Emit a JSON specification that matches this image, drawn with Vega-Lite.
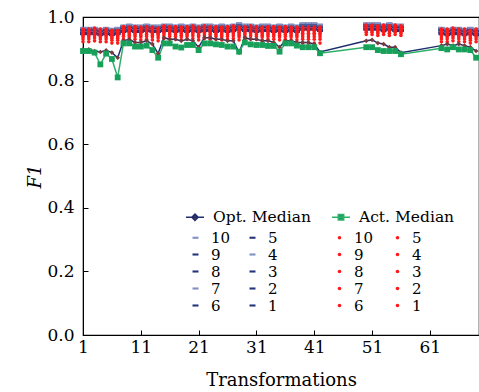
{
  "$schema": "https://vega.github.io/schema/vega-lite/v6.json",
  "width": 396,
  "height": 318,
  "padding": {"left": 26, "top": 8, "right": 3, "bottom": 0},
  "background": "white",
  "config": {
    "font": "DejaVu Serif",
    "view": {"stroke": "black", "strokeWidth": 1.2},
    "axis": {
      "grid": false,
      "domainColor": "black",
      "tickColor": "black",
      "labelColor": "black",
      "titleColor": "black",
      "labelFont": "DejaVu Serif",
      "titleFont": "DejaVu Serif",
      "titleFontWeight": "normal",
      "labelFontSize": 17,
      "titleFontSize": 18,
      "tickSize": -5
    },
    "legend": {"labelFont": "DejaVu Serif", "labelColor": "black", "padding": 0}
  },
  "data": {"values": [
    {"x":1,"om":0.898,"am":0.893,"o1":0.946,"o2":0.950,"o3":0.953,"o4":0.956,"o5":0.958,"o6":0.960,"o7":0.962,"o8":0.963,"o9":0.965,"o10":0.966,"a1":0.922,"a2":0.931,"a3":0.937,"a4":0.942,"a5":0.946,"a6":0.950,"a7":0.953,"a8":0.956,"a9":0.959,"a10":0.962},
    {"x":2,"om":0.898,"am":0.893,"o1":0.946,"o2":0.950,"o3":0.953,"o4":0.956,"o5":0.958,"o6":0.960,"o7":0.962,"o8":0.963,"o9":0.965,"o10":0.966,"a1":0.922,"a2":0.931,"a3":0.937,"a4":0.942,"a5":0.946,"a6":0.950,"a7":0.953,"a8":0.956,"a9":0.959,"a10":0.962},
    {"x":3,"om":0.893,"am":0.888,"o1":0.946,"o2":0.950,"o3":0.953,"o4":0.956,"o5":0.958,"o6":0.960,"o7":0.962,"o8":0.963,"o9":0.965,"o10":0.966,"a1":0.925,"a2":0.934,"a3":0.940,"a4":0.945,"a5":0.949,"a6":0.953,"a7":0.956,"a8":0.959,"a9":0.962,"a10":0.965},
    {"x":4,"om":0.890,"am":0.851,"o1":0.943,"o2":0.947,"o3":0.950,"o4":0.953,"o5":0.955,"o6":0.957,"o7":0.959,"o8":0.960,"o9":0.962,"o10":0.963,"a1":0.922,"a2":0.931,"a3":0.937,"a4":0.942,"a5":0.946,"a6":0.950,"a7":0.953,"a8":0.956,"a9":0.959,"a10":0.962},
    {"x":5,"om":0.895,"am":0.885,"o1":0.946,"o2":0.950,"o3":0.953,"o4":0.956,"o5":0.958,"o6":0.960,"o7":0.962,"o8":0.963,"o9":0.965,"o10":0.966,"a1":0.922,"a2":0.931,"a3":0.937,"a4":0.942,"a5":0.946,"a6":0.950,"a7":0.953,"a8":0.956,"a9":0.959,"a10":0.962},
    {"x":6,"om":0.888,"am":0.868,"o1":0.943,"o2":0.947,"o3":0.950,"o4":0.953,"o5":0.955,"o6":0.957,"o7":0.959,"o8":0.960,"o9":0.962,"o10":0.963,"a1":0.918,"a2":0.927,"a3":0.933,"a4":0.938,"a5":0.942,"a6":0.946,"a7":0.949,"a8":0.952,"a9":0.955,"a10":0.958},
    {"x":7,"om":0.872,"am":0.810,"o1":0.946,"o2":0.950,"o3":0.953,"o4":0.956,"o5":0.958,"o6":0.960,"o7":0.962,"o8":0.963,"o9":0.965,"o10":0.966,"a1":0.918,"a2":0.927,"a3":0.933,"a4":0.938,"a5":0.942,"a6":0.946,"a7":0.949,"a8":0.952,"a9":0.955,"a10":0.958},
    {"x":8,"om":0.925,"am":0.917,"o1":0.953,"o2":0.957,"o3":0.960,"o4":0.963,"o5":0.965,"o6":0.967,"o7":0.969,"o8":0.970,"o9":0.972,"o10":0.973,"a1":0.930,"a2":0.939,"a3":0.945,"a4":0.950,"a5":0.954,"a6":0.958,"a7":0.961,"a8":0.964,"a9":0.967,"a10":0.970},
    {"x":9,"om":0.930,"am":0.917,"o1":0.956,"o2":0.960,"o3":0.963,"o4":0.966,"o5":0.968,"o6":0.970,"o7":0.972,"o8":0.973,"o9":0.975,"o10":0.976,"a1":0.928,"a2":0.937,"a3":0.943,"a4":0.948,"a5":0.952,"a6":0.956,"a7":0.959,"a8":0.962,"a9":0.965,"a10":0.968},
    {"x":10,"om":0.920,"am":0.907,"o1":0.953,"o2":0.957,"o3":0.960,"o4":0.963,"o5":0.965,"o6":0.967,"o7":0.969,"o8":0.970,"o9":0.972,"o10":0.973,"a1":0.930,"a2":0.939,"a3":0.945,"a4":0.950,"a5":0.954,"a6":0.958,"a7":0.961,"a8":0.964,"a9":0.967,"a10":0.970},
    {"x":11,"om":0.920,"am":0.907,"o1":0.953,"o2":0.957,"o3":0.960,"o4":0.963,"o5":0.965,"o6":0.967,"o7":0.969,"o8":0.970,"o9":0.972,"o10":0.973,"a1":0.928,"a2":0.937,"a3":0.943,"a4":0.948,"a5":0.952,"a6":0.956,"a7":0.959,"a8":0.962,"a9":0.965,"a10":0.968},
    {"x":12,"om":0.925,"am":0.910,"o1":0.956,"o2":0.960,"o3":0.963,"o4":0.966,"o5":0.968,"o6":0.970,"o7":0.972,"o8":0.973,"o9":0.975,"o10":0.976,"a1":0.930,"a2":0.939,"a3":0.945,"a4":0.950,"a5":0.954,"a6":0.958,"a7":0.961,"a8":0.964,"a9":0.967,"a10":0.970},
    {"x":13,"om":0.915,"am":0.896,"o1":0.953,"o2":0.957,"o3":0.960,"o4":0.963,"o5":0.965,"o6":0.967,"o7":0.969,"o8":0.970,"o9":0.972,"o10":0.973,"a1":0.928,"a2":0.937,"a3":0.943,"a4":0.948,"a5":0.952,"a6":0.956,"a7":0.959,"a8":0.962,"a9":0.965,"a10":0.968},
    {"x":14,"om":0.885,"am":0.872,"o1":0.953,"o2":0.957,"o3":0.960,"o4":0.963,"o5":0.965,"o6":0.967,"o7":0.969,"o8":0.970,"o9":0.972,"o10":0.973,"a1":0.925,"a2":0.934,"a3":0.940,"a4":0.945,"a5":0.949,"a6":0.953,"a7":0.956,"a8":0.959,"a9":0.962,"a10":0.965},
    {"x":15,"om":0.935,"am":0.917,"o1":0.956,"o2":0.960,"o3":0.963,"o4":0.966,"o5":0.968,"o6":0.970,"o7":0.972,"o8":0.973,"o9":0.975,"o10":0.976,"a1":0.932,"a2":0.941,"a3":0.947,"a4":0.952,"a5":0.956,"a6":0.960,"a7":0.963,"a8":0.966,"a9":0.969,"a10":0.972},
    {"x":16,"om":0.930,"am":0.917,"o1":0.956,"o2":0.960,"o3":0.963,"o4":0.966,"o5":0.968,"o6":0.970,"o7":0.972,"o8":0.973,"o9":0.975,"o10":0.976,"a1":0.930,"a2":0.939,"a3":0.945,"a4":0.950,"a5":0.954,"a6":0.958,"a7":0.961,"a8":0.964,"a9":0.967,"a10":0.970},
    {"x":17,"om":0.930,"am":0.907,"o1":0.953,"o2":0.957,"o3":0.960,"o4":0.963,"o5":0.965,"o6":0.967,"o7":0.969,"o8":0.970,"o9":0.972,"o10":0.973,"a1":0.930,"a2":0.939,"a3":0.945,"a4":0.950,"a5":0.954,"a6":0.958,"a7":0.961,"a8":0.964,"a9":0.967,"a10":0.970},
    {"x":18,"om":0.925,"am":0.904,"o1":0.956,"o2":0.960,"o3":0.963,"o4":0.966,"o5":0.968,"o6":0.970,"o7":0.972,"o8":0.973,"o9":0.975,"o10":0.976,"a1":0.928,"a2":0.937,"a3":0.943,"a4":0.948,"a5":0.952,"a6":0.956,"a7":0.959,"a8":0.962,"a9":0.965,"a10":0.968},
    {"x":19,"om":0.930,"am":0.912,"o1":0.953,"o2":0.957,"o3":0.960,"o4":0.963,"o5":0.965,"o6":0.967,"o7":0.969,"o8":0.970,"o9":0.972,"o10":0.973,"a1":0.930,"a2":0.939,"a3":0.945,"a4":0.950,"a5":0.954,"a6":0.958,"a7":0.961,"a8":0.964,"a9":0.967,"a10":0.970},
    {"x":20,"om":0.925,"am":0.912,"o1":0.956,"o2":0.960,"o3":0.963,"o4":0.966,"o5":0.968,"o6":0.970,"o7":0.972,"o8":0.973,"o9":0.975,"o10":0.976,"a1":0.932,"a2":0.941,"a3":0.947,"a4":0.952,"a5":0.956,"a6":0.960,"a7":0.963,"a8":0.966,"a9":0.969,"a10":0.972},
    {"x":21,"om":0.905,"am":0.896,"o1":0.953,"o2":0.957,"o3":0.960,"o4":0.963,"o5":0.965,"o6":0.967,"o7":0.969,"o8":0.970,"o9":0.972,"o10":0.973,"a1":0.928,"a2":0.937,"a3":0.943,"a4":0.948,"a5":0.952,"a6":0.956,"a7":0.959,"a8":0.962,"a9":0.965,"a10":0.968},
    {"x":22,"om":0.935,"am":0.917,"o1":0.956,"o2":0.960,"o3":0.963,"o4":0.966,"o5":0.968,"o6":0.970,"o7":0.972,"o8":0.973,"o9":0.975,"o10":0.976,"a1":0.932,"a2":0.941,"a3":0.947,"a4":0.952,"a5":0.956,"a6":0.960,"a7":0.963,"a8":0.966,"a9":0.969,"a10":0.972},
    {"x":23,"om":0.935,"am":0.917,"o1":0.956,"o2":0.960,"o3":0.963,"o4":0.966,"o5":0.968,"o6":0.970,"o7":0.972,"o8":0.973,"o9":0.975,"o10":0.976,"a1":0.930,"a2":0.939,"a3":0.945,"a4":0.950,"a5":0.954,"a6":0.958,"a7":0.961,"a8":0.964,"a9":0.967,"a10":0.970},
    {"x":24,"om":0.930,"am":0.914,"o1":0.953,"o2":0.957,"o3":0.960,"o4":0.963,"o5":0.965,"o6":0.967,"o7":0.969,"o8":0.970,"o9":0.972,"o10":0.973,"a1":0.930,"a2":0.939,"a3":0.945,"a4":0.950,"a5":0.954,"a6":0.958,"a7":0.961,"a8":0.964,"a9":0.967,"a10":0.970},
    {"x":25,"om":0.930,"am":0.912,"o1":0.956,"o2":0.960,"o3":0.963,"o4":0.966,"o5":0.968,"o6":0.970,"o7":0.972,"o8":0.973,"o9":0.975,"o10":0.976,"a1":0.928,"a2":0.937,"a3":0.943,"a4":0.948,"a5":0.952,"a6":0.956,"a7":0.959,"a8":0.962,"a9":0.965,"a10":0.968},
    {"x":26,"om":0.925,"am":0.907,"o1":0.953,"o2":0.957,"o3":0.960,"o4":0.963,"o5":0.965,"o6":0.967,"o7":0.969,"o8":0.970,"o9":0.972,"o10":0.973,"a1":0.930,"a2":0.939,"a3":0.945,"a4":0.950,"a5":0.954,"a6":0.958,"a7":0.961,"a8":0.964,"a9":0.967,"a10":0.970},
    {"x":27,"om":0.925,"am":0.907,"o1":0.956,"o2":0.960,"o3":0.963,"o4":0.966,"o5":0.968,"o6":0.970,"o7":0.972,"o8":0.973,"o9":0.975,"o10":0.976,"a1":0.932,"a2":0.941,"a3":0.947,"a4":0.952,"a5":0.956,"a6":0.960,"a7":0.963,"a8":0.966,"a9":0.969,"a10":0.972},
    {"x":28,"om":0.888,"am":0.891,"o1":0.960,"o2":0.964,"o3":0.967,"o4":0.970,"o5":0.972,"o6":0.974,"o7":0.976,"o8":0.977,"o9":0.979,"o10":0.980,"a1":0.928,"a2":0.937,"a3":0.943,"a4":0.948,"a5":0.952,"a6":0.956,"a7":0.959,"a8":0.962,"a9":0.965,"a10":0.968},
    {"x":29,"om":0.935,"am":0.920,"o1":0.956,"o2":0.960,"o3":0.963,"o4":0.966,"o5":0.968,"o6":0.970,"o7":0.972,"o8":0.973,"o9":0.975,"o10":0.976,"a1":0.930,"a2":0.939,"a3":0.945,"a4":0.950,"a5":0.954,"a6":0.958,"a7":0.961,"a8":0.964,"a9":0.967,"a10":0.970},
    {"x":30,"om":0.930,"am":0.914,"o1":0.956,"o2":0.960,"o3":0.963,"o4":0.966,"o5":0.968,"o6":0.970,"o7":0.972,"o8":0.973,"o9":0.975,"o10":0.976,"a1":0.932,"a2":0.941,"a3":0.947,"a4":0.952,"a5":0.956,"a6":0.960,"a7":0.963,"a8":0.966,"a9":0.969,"a10":0.972},
    {"x":31,"om":0.930,"am":0.912,"o1":0.953,"o2":0.957,"o3":0.960,"o4":0.963,"o5":0.965,"o6":0.967,"o7":0.969,"o8":0.970,"o9":0.972,"o10":0.973,"a1":0.930,"a2":0.939,"a3":0.945,"a4":0.950,"a5":0.954,"a6":0.958,"a7":0.961,"a8":0.964,"a9":0.967,"a10":0.970},
    {"x":32,"om":0.925,"am":0.912,"o1":0.956,"o2":0.960,"o3":0.963,"o4":0.966,"o5":0.968,"o6":0.970,"o7":0.972,"o8":0.973,"o9":0.975,"o10":0.976,"a1":0.928,"a2":0.937,"a3":0.943,"a4":0.948,"a5":0.952,"a6":0.956,"a7":0.959,"a8":0.962,"a9":0.965,"a10":0.968},
    {"x":33,"om":0.925,"am":0.909,"o1":0.956,"o2":0.960,"o3":0.963,"o4":0.966,"o5":0.968,"o6":0.970,"o7":0.972,"o8":0.973,"o9":0.975,"o10":0.976,"a1":0.930,"a2":0.939,"a3":0.945,"a4":0.950,"a5":0.954,"a6":0.958,"a7":0.961,"a8":0.964,"a9":0.967,"a10":0.970},
    {"x":34,"om":0.920,"am":0.909,"o1":0.953,"o2":0.957,"o3":0.960,"o4":0.963,"o5":0.965,"o6":0.967,"o7":0.969,"o8":0.970,"o9":0.972,"o10":0.973,"a1":0.930,"a2":0.939,"a3":0.945,"a4":0.950,"a5":0.954,"a6":0.958,"a7":0.961,"a8":0.964,"a9":0.967,"a10":0.970},
    {"x":35,"om":0.905,"am":0.891,"o1":0.956,"o2":0.960,"o3":0.963,"o4":0.966,"o5":0.968,"o6":0.970,"o7":0.972,"o8":0.973,"o9":0.975,"o10":0.976,"a1":0.928,"a2":0.937,"a3":0.943,"a4":0.948,"a5":0.952,"a6":0.956,"a7":0.959,"a8":0.962,"a9":0.965,"a10":0.968},
    {"x":36,"om":0.925,"am":0.917,"o1":0.953,"o2":0.957,"o3":0.960,"o4":0.963,"o5":0.965,"o6":0.967,"o7":0.969,"o8":0.970,"o9":0.972,"o10":0.973,"a1":0.930,"a2":0.939,"a3":0.945,"a4":0.950,"a5":0.954,"a6":0.958,"a7":0.961,"a8":0.964,"a9":0.967,"a10":0.970},
    {"x":37,"om":0.925,"am":0.917,"o1":0.956,"o2":0.960,"o3":0.963,"o4":0.966,"o5":0.968,"o6":0.970,"o7":0.972,"o8":0.973,"o9":0.975,"o10":0.976,"a1":0.928,"a2":0.937,"a3":0.943,"a4":0.948,"a5":0.952,"a6":0.956,"a7":0.959,"a8":0.962,"a9":0.965,"a10":0.968},
    {"x":38,"om":0.920,"am":0.910,"o1":0.953,"o2":0.957,"o3":0.960,"o4":0.963,"o5":0.965,"o6":0.967,"o7":0.969,"o8":0.970,"o9":0.972,"o10":0.973,"a1":0.928,"a2":0.937,"a3":0.943,"a4":0.948,"a5":0.952,"a6":0.956,"a7":0.959,"a8":0.962,"a9":0.965,"a10":0.968},
    {"x":39,"om":0.920,"am":0.905,"o1":0.960,"o2":0.964,"o3":0.967,"o4":0.970,"o5":0.972,"o6":0.974,"o7":0.976,"o8":0.977,"o9":0.979,"o10":0.980,"a1":0.918,"a2":0.930,"a3":0.938,"a4":0.944,"a5":0.949,"a6":0.954,"a7":0.958,"a8":0.961,"a9":0.965,"a10":0.968},
    {"x":40,"om":0.920,"am":0.905,"o1":0.960,"o2":0.964,"o3":0.967,"o4":0.970,"o5":0.972,"o6":0.974,"o7":0.976,"o8":0.977,"o9":0.979,"o10":0.980,"a1":0.918,"a2":0.930,"a3":0.938,"a4":0.944,"a5":0.949,"a6":0.954,"a7":0.958,"a8":0.961,"a9":0.965,"a10":0.968},
    {"x":41,"om":0.915,"am":0.905,"o1":0.960,"o2":0.964,"o3":0.967,"o4":0.970,"o5":0.972,"o6":0.974,"o7":0.976,"o8":0.977,"o9":0.979,"o10":0.980,"a1":0.918,"a2":0.930,"a3":0.938,"a4":0.944,"a5":0.949,"a6":0.954,"a7":0.958,"a8":0.961,"a9":0.965,"a10":0.968},
    {"x":42,"om":0.890,"am":0.886,"o1":0.956,"o2":0.960,"o3":0.963,"o4":0.966,"o5":0.968,"o6":0.970,"o7":0.972,"o8":0.973,"o9":0.975,"o10":0.976,"a1":0.918,"a2":0.930,"a3":0.938,"a4":0.944,"a5":0.949,"a6":0.954,"a7":0.958,"a8":0.961,"a9":0.965,"a10":0.968},
    {"x":50,"om":0.925,"am":0.905,"o1":0.960,"o2":0.964,"o3":0.967,"o4":0.970,"o5":0.972,"o6":0.974,"o7":0.976,"o8":0.977,"o9":0.979,"o10":0.980,"a1":0.945,"a2":0.952,"a3":0.957,"a4":0.961,"a5":0.964,"a6":0.967,"a7":0.969,"a8":0.971,"a9":0.973,"a10":0.975},
    {"x":51,"om":0.928,"am":0.905,"o1":0.960,"o2":0.964,"o3":0.967,"o4":0.970,"o5":0.972,"o6":0.974,"o7":0.976,"o8":0.977,"o9":0.979,"o10":0.980,"a1":0.945,"a2":0.952,"a3":0.957,"a4":0.961,"a5":0.964,"a6":0.967,"a7":0.969,"a8":0.971,"a9":0.973,"a10":0.975},
    {"x":52,"om":0.918,"am":0.896,"o1":0.960,"o2":0.964,"o3":0.967,"o4":0.970,"o5":0.972,"o6":0.974,"o7":0.976,"o8":0.977,"o9":0.979,"o10":0.980,"a1":0.942,"a2":0.949,"a3":0.954,"a4":0.958,"a5":0.961,"a6":0.964,"a7":0.966,"a8":0.968,"a9":0.970,"a10":0.972},
    {"x":53,"om":0.915,"am":0.893,"o1":0.956,"o2":0.960,"o3":0.963,"o4":0.966,"o5":0.968,"o6":0.970,"o7":0.972,"o8":0.973,"o9":0.975,"o10":0.976,"a1":0.945,"a2":0.952,"a3":0.957,"a4":0.961,"a5":0.964,"a6":0.967,"a7":0.969,"a8":0.971,"a9":0.973,"a10":0.975},
    {"x":54,"om":0.905,"am":0.893,"o1":0.960,"o2":0.964,"o3":0.967,"o4":0.970,"o5":0.972,"o6":0.974,"o7":0.976,"o8":0.977,"o9":0.979,"o10":0.980,"a1":0.942,"a2":0.949,"a3":0.954,"a4":0.958,"a5":0.961,"a6":0.964,"a7":0.966,"a8":0.968,"a9":0.970,"a10":0.972},
    {"x":55,"om":0.905,"am":0.893,"o1":0.956,"o2":0.960,"o3":0.963,"o4":0.966,"o5":0.968,"o6":0.970,"o7":0.972,"o8":0.973,"o9":0.975,"o10":0.976,"a1":0.945,"a2":0.952,"a3":0.957,"a4":0.961,"a5":0.964,"a6":0.967,"a7":0.969,"a8":0.971,"a9":0.973,"a10":0.975},
    {"x":56,"om":0.888,"am":0.883,"o1":0.956,"o2":0.960,"o3":0.963,"o4":0.966,"o5":0.968,"o6":0.970,"o7":0.972,"o8":0.973,"o9":0.975,"o10":0.976,"a1":0.942,"a2":0.949,"a3":0.954,"a4":0.958,"a5":0.961,"a6":0.964,"a7":0.966,"a8":0.968,"a9":0.970,"a10":0.972},
    {"x":63,"om":0.910,"am":0.902,"o1":0.946,"o2":0.950,"o3":0.953,"o4":0.956,"o5":0.958,"o6":0.960,"o7":0.962,"o8":0.963,"o9":0.965,"o10":0.966,"a1":0.922,"a2":0.931,"a3":0.937,"a4":0.942,"a5":0.946,"a6":0.950,"a7":0.953,"a8":0.956,"a9":0.959,"a10":0.962},
    {"x":64,"om":0.915,"am":0.898,"o1":0.943,"o2":0.947,"o3":0.950,"o4":0.953,"o5":0.955,"o6":0.957,"o7":0.959,"o8":0.960,"o9":0.962,"o10":0.963,"a1":0.922,"a2":0.931,"a3":0.937,"a4":0.942,"a5":0.946,"a6":0.950,"a7":0.953,"a8":0.956,"a9":0.959,"a10":0.962},
    {"x":65,"om":0.910,"am":0.905,"o1":0.946,"o2":0.950,"o3":0.953,"o4":0.956,"o5":0.958,"o6":0.960,"o7":0.962,"o8":0.963,"o9":0.965,"o10":0.966,"a1":0.925,"a2":0.934,"a3":0.940,"a4":0.945,"a5":0.949,"a6":0.953,"a7":0.956,"a8":0.959,"a9":0.962,"a10":0.965},
    {"x":66,"om":0.915,"am":0.898,"o1":0.946,"o2":0.950,"o3":0.953,"o4":0.956,"o5":0.958,"o6":0.960,"o7":0.962,"o8":0.963,"o9":0.965,"o10":0.966,"a1":0.922,"a2":0.931,"a3":0.937,"a4":0.942,"a5":0.946,"a6":0.950,"a7":0.953,"a8":0.956,"a9":0.959,"a10":0.962},
    {"x":67,"om":0.910,"am":0.898,"o1":0.943,"o2":0.947,"o3":0.950,"o4":0.953,"o5":0.955,"o6":0.957,"o7":0.959,"o8":0.960,"o9":0.962,"o10":0.963,"a1":0.922,"a2":0.931,"a3":0.937,"a4":0.942,"a5":0.946,"a6":0.950,"a7":0.953,"a8":0.956,"a9":0.959,"a10":0.962},
    {"x":68,"om":0.905,"am":0.896,"o1":0.946,"o2":0.950,"o3":0.953,"o4":0.956,"o5":0.958,"o6":0.960,"o7":0.962,"o8":0.963,"o9":0.965,"o10":0.966,"a1":0.918,"a2":0.927,"a3":0.933,"a4":0.938,"a5":0.942,"a6":0.946,"a7":0.949,"a8":0.952,"a9":0.955,"a10":0.958},
    {"x":69,"om":0.893,"am":0.872,"o1":0.943,"o2":0.947,"o3":0.950,"o4":0.953,"o5":0.955,"o6":0.957,"o7":0.959,"o8":0.960,"o9":0.962,"o10":0.963,"a1":0.922,"a2":0.931,"a3":0.937,"a4":0.942,"a5":0.946,"a6":0.950,"a7":0.953,"a8":0.956,"a9":0.959,"a10":0.962}
  ]},
  "encoding": {
    "x": {
      "field": "x", "type": "quantitative",
      "scale": {"domain": [1, 69.5], "nice": false, "zero": false},
      "axis": {"values": [1, 11, 21, 31, 41, 51, 61], "title": "Transformations", "labelPadding": 9, "titlePadding": 16, "labelFlush": false}
    }
  },
  "layer": [
    {
      "transform": [{"fold": ["o1","o2","o3","o4","o5","o6","o7","o8","o9","o10"], "as": ["ok", "ov"]}],
      "mark": {"type": "point", "filled": true, "shape": "M-1,-0.35H1V0.35H-1Z", "size": 36, "opacity": 1},
      "encoding": {
        "y": {"field": "ov", "type": "quantitative", "title": "F1",
              "scale": {"domain": [0, 1], "nice": false},
              "axis": {"values": [0, 0.2, 0.4, 0.6, 0.8, 1.0], "format": ".1f", "titleFontStyle": "italic", "labelPadding": 14, "titlePadding": 2}},
        "fill": {"field": "ok", "type": "nominal",
          "scale": {"domain": ["o10","o9","o8","o7","o6","o5","o4","o3","o2","o1"],
                    "range": ["#8190c4","#26357a","#26357a","#8190c4","#26357a","#26357a","#8190c4","#26357a","#26357a","#26357a"]},
          "legend": {"orient": "none", "legendX": 105, "legendY": 213, "columns": 2, "title": null,
                     "labelExpr": "slice(datum.label, 1)", "labelFontSize": 15, "symbolType": "M-1,-0.35H1V0.35H-1Z",
                     "symbolSize": 36, "rowPadding": 1, "columnPadding": 14, "labelOffset": 8}}
      }
    },
    {
      "transform": [{"fold": ["a1","a2","a3","a4","a5","a6","a7","a8","a9","a10"], "as": ["ak", "av"]}],
      "mark": {"type": "point", "filled": true, "color": "#ff1a1a", "size": 13, "opacity": 1},
      "encoding": {
        "y": {"field": "av", "type": "quantitative", "title": "F1"},
        "shape": {"field": "ak", "type": "nominal",
          "scale": {"domain": ["a10","a9","a8","a7","a6","a5","a4","a3","a2","a1"],
                    "range": ["circle","circle","circle","circle","circle","circle","circle","circle","circle","circle"]},
          "legend": {"orient": "none", "legendX": 249, "legendY": 213, "columns": 2, "title": null,
                     "labelExpr": "slice(datum.label, 1)", "labelFontSize": 15, "symbolFillColor": "#ff1a1a",
                     "symbolStrokeColor": "#ff1a1a", "symbolSize": 13, "rowPadding": 1, "columnPadding": 16, "labelOffset": 7}}
      }
    },
    {
      "transform": [{"fold": ["om", "am"], "as": ["mk", "mv"]}],
      "mark": {"type": "line", "strokeWidth": 1.5},
      "encoding": {
        "y": {"field": "mv", "type": "quantitative", "title": "F1"},
        "color": {"field": "mk", "type": "nominal",
          "scale": {"domain": ["om", "am"], "range": ["#1f2d6e", "#2fb06a"]},
          "legend": {"orient": "none", "legendX": 102, "legendY": 190, "direction": "horizontal", "title": null,
                     "labelExpr": "datum.value == 'om' ? 'Opt. Median' : 'Act. Median'",
                     "labelFontSize": 15.5, "symbolSize": 324, "symbolStrokeWidth": 1.5, "columnPadding": 18, "labelOffset": 8,
                     "encode": {"symbols": {"update": {
                       "shape": {"signal": "datum.value == 'om' ? 'M-1,0H1M-0.35,0L0,-0.35L0.35,0L0,0.35Z' : 'M-1,0H1M-0.3,-0.3H0.3V0.3H-0.3Z'"},
                       "fill": {"signal": "datum.value == 'om' ? '#7b3a3a' : '#17a05a'"},
                       "stroke": {"signal": "datum.value == 'om' ? '#1f2d6e' : '#2fb06a'"},
                       "strokeWidth": {"value": 1.5}
                     }}}}}
      }
    },
    {
      "mark": {"type": "point", "filled": true, "shape": "diamond", "color": "#7b3a3a", "size": 22, "opacity": 1},
      "encoding": {"y": {"field": "om", "type": "quantitative", "title": "F1"}}
    },
    {
      "mark": {"type": "point", "filled": true, "shape": "square", "color": "#17a05a", "size": 34, "opacity": 1},
      "encoding": {"y": {"field": "am", "type": "quantitative", "title": "F1"}}
    }
  ]
}
